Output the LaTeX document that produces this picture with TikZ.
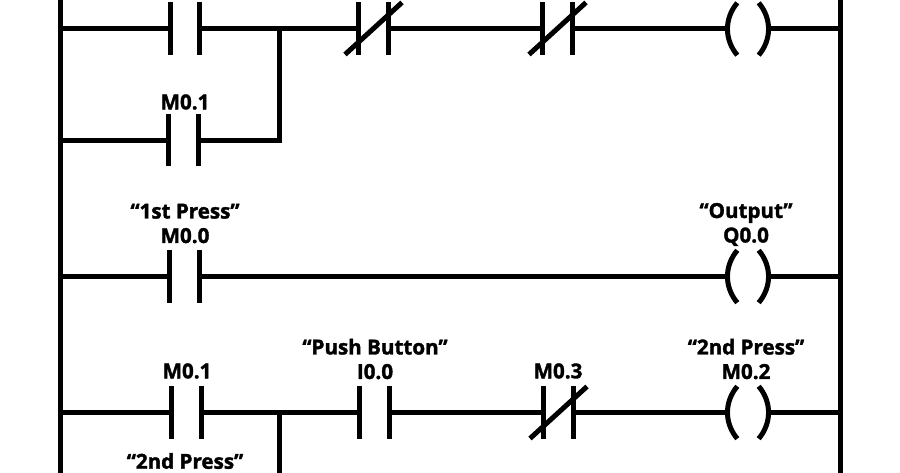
\documentclass[tikz,border=0pt]{standalone}
\usepackage{fontspec}
\setmainfont[BoldFeatures={FakeBold=1.7}]{Open Sans}
\tikzset{
  wire/.style={line width=5pt},
  bar/.style={line width=5pt},
  tag/.style={font=\fontsize{20.6}{24.5}\selectfont\bfseries, align=center, inner sep=0pt},
  contact/.style={minimum width=29.5pt, minimum height=52pt, inner sep=0pt,
    append after command={
      (\tikzlastnode.north west) edge[bar] (\tikzlastnode.south west)
      (\tikzlastnode.north east) edge[bar] (\tikzlastnode.south east)}},
  closed/.style={contact,
    append after command={
      ([shift={(-28.5pt,-26pt)}]\tikzlastnode.center) edge[bar] ([shift={(28.5pt,26pt)}]\tikzlastnode.center)}},
  coil/.style={minimum width=41pt, minimum height=52pt, inner sep=0pt,
    append after command={
      ([xshift=10pt]\tikzlastnode.north west) edge[bar, bend right=40] ([xshift=10pt]\tikzlastnode.south west)
      ([xshift=-10pt]\tikzlastnode.north east) edge[bar, bend left=40] ([xshift=-10pt]\tikzlastnode.south east)}},
}
\begin{document}
\begin{tikzpicture}[x=1pt, y=-1pt]
  \useasboundingbox (0,0) rectangle (900,473);
  % rails
  \coordinate (lt) at (60,-5);
  \coordinate (lb) at (60,478);
  \coordinate (rt) at (840,-5);
  \coordinate (rb) at (840,478);
  \coordinate (l1) at (60,29);
  \coordinate (l2) at (60,140.5);
  \coordinate (l3) at (60,276.5);
  \coordinate (l4) at (60,412.5);
  \coordinate (r1) at (840,29);
  \coordinate (r3) at (840,276.5);
  \coordinate (r4) at (840,412.5);
  \coordinate (j1) at (279,29);
  \coordinate (j2) at (279,140.5);
  \coordinate (j4) at (279,412.5);
  \coordinate (j5) at (279,478);
  % rung 1
  \node[contact] (a1) at (185,28.5) {};
  \node[closed] (a2) at (373.5,28.5) {};
  \node[closed] (a3) at (557.5,28.5) {};
  \node[coil] (a4) at (748,29) {};
  \node[contact] (b1) at (183.5,140) {};
  \node[tag] (tb1) at (185,102) {M0.1};
  % rung 2
  \node[contact] (c1) at (184.5,276.5) {};
  \node[coil] (c2) at (748,276.5) {};
  \node[tag] (tc1) at (185,223.5) {“1st Press”\\M0.0};
  \node[tag] (tc2) at (746,224.5) {“Output”\\Q0.0};
  % rung 3
  \node[contact] (d1) at (186.5,412.5) {};
  \node[contact] (d2) at (374.5,412.5) {};
  \node[closed] (d3) at (558.5,412.5) {};
  \node[coil] (d4) at (748,412.5) {};
  \node[tag] (td1) at (187,371) {M0.1};
  \node[tag] (td2) at (375,359) {“Push Button”\\I0.0};
  \node[tag] (td3) at (558,371) {M0.3};
  \node[tag] (td4) at (746,359) {“2nd Press”\\M0.2};
  \node[tag] (te1) at (185,461) {“2nd Press”};
  \begin{scope}[wire]
    \draw (l1) to (a1.west |- l1);
    \draw (a1.east |- l1) to (a2.west |- l1);
    \draw (a2.east |- l1) to (a3.west |- l1);
    \draw (a3.east |- l1) to (a4.west);
    \draw (a4.east) to (r1);
    \draw (l2) to (b1.west |- l2);
    \draw (b1.east |- l2) -- (j2) -- (j1);
    \draw (l3) to (c1.west);
    \draw (c1.east) to (c2.west);
    \draw (c2.east) to (r3);
    \draw (l4) to (d1.west);
    \draw (d1.east) to (d2.west);
    \draw (d2.east) to (d3.west);
    \draw (d3.east) to (d4.west);
    \draw (d4.east) to (r4);
    \draw (j4) to (j5);
  \end{scope}
  \begin{scope}[bar]
    \draw (lt) to (lb);
    \draw (rt) to (rb);
  \end{scope}
\end{tikzpicture}
\end{document}
